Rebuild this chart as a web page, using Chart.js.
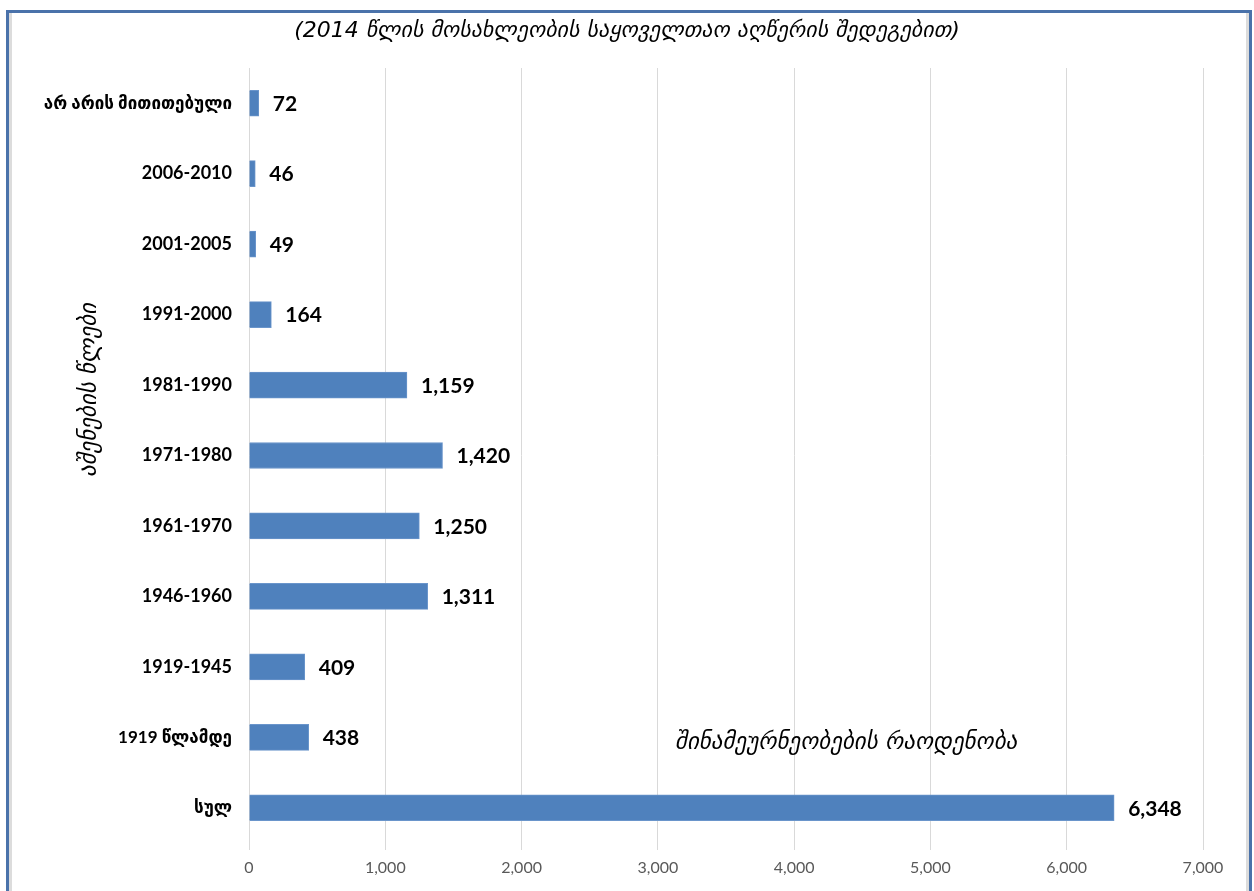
<!DOCTYPE html>
<html>
<head>
<meta charset="utf-8">
<script src="https://cdn.jsdelivr.net/npm/chart.js@4.4.0/dist/chart.umd.min.js"></script>
<style>
  html, body { margin: 0; padding: 0; background: #fff; overflow: hidden; }
  #frame {
    position: absolute; left: 6px; top: 10px; width: 1240px; height: 900px;
    border: 3px solid #4A72AA; border-bottom: none;
    box-shadow: inset 3px 0 0 #DCDCDC, inset -3px 0 0 #DCDCDC;
  }
  #wrap { position: absolute; left: 0; top: 0; width: 1254px; height: 891px; }
</style>
</head>
<body>
<div id="frame"></div>
<div id="wrap"><canvas id="barChart" width="1254" height="891"></canvas></div>
<script>
// ასაშენებელი პერიოდები და შინამეურნეობების რაოდენობა
var categories = ['არ არის მითითებული', '2006-2010', '2001-2005', '1991-2000', '1981-1990',
    '1971-1980', '1961-1970', '1946-1960', '1919-1945', '1919 წლამდე', 'სულ'];
var households = [72, 46, 49, 164, 1159, 1420, 1250, 1311, 409, 438, 6348];
var xTicks = [0, 1000, 2000, 3000, 4000, 5000, 6000, 7000];

var chartTitle = '(2014 წლის მოსახლეობის საყოველთაო აღწერის შედეგებით)';
var yTitle = 'აშენების წლები';
var xTitle = 'შინამეურნეობების რაოდენობა';

var fmt = function (v) { return v.toLocaleString('en-US'); };
var georgian = /[\u10A0-\u10FF]/;

// ტექსტები და მნიშვნელობები ბარებთან
var extrasPlugin = {
    id: 'extras',
    afterDatasetsDraw: function (chart) {
        var ctx = chart.ctx;
        var meta = chart.getDatasetMeta(0);
        ctx.save();
        ctx.fillStyle = '#000';
        ctx.font = 'bold 21px Lato, "DejaVu Sans", sans-serif';
        ctx.textAlign = 'left';
        ctx.textBaseline = 'middle';
        meta.data.forEach(function (bar, i) {
            ctx.fillText(fmt(households[i]), bar.x + 14, bar.y + 1);
        });

        ctx.font = 'italic 22px "DejaVu Sans", sans-serif';
        ctx.textAlign = 'center';
        ctx.fillText(chartTitle, 627, 31);

        ctx.font = 'italic 23px "DejaVu Sans", sans-serif';
        ctx.textAlign = 'left';
        ctx.fillText(xTitle, 675, 743);

        ctx.translate(90, 390);
        ctx.rotate(-Math.PI / 2);
        ctx.textAlign = 'center';
        ctx.fillText(yTitle, 0, 0);
        ctx.restore();
    }
};

var ctxBar = document.getElementById('barChart').getContext('2d');
var barChart = new Chart(ctxBar, {
    type: 'bar',
    data: {
        labels: categories,
        datasets: [{
            data: households,
            backgroundColor: '#4F81BD',
            borderColor: '#6A95CB',
            borderWidth: 1,
            barThickness: 26
        }]
    },
    options: {
        indexAxis: 'y',
        responsive: false,
        animation: false,
        layout: { padding: { top: 68, right: 51, bottom: 0, left: 0 } },
        scales: {
            x: {
                min: 0,
                max: 7000,
                afterBuildTicks: function (scale) {
                    scale.ticks = xTicks.map(function (v) { return { value: v }; });
                },
                afterFit: function (scale) { scale.height = 48; },
                grid: { color: '#D9D9D9', lineWidth: 1, tickLength: 7 },
                border: { display: false },
                ticks: {
                    padding: 8,
                    color: '#595959',
                    font: { family: 'Lato, "DejaVu Sans", sans-serif', size: 16 },
                    callback: function (value) { return fmt(value); }
                }
            },
            y: {
                afterFit: function (scale) { scale.width = 249; },
                grid: { display: false },
                border: { display: false },
                ticks: {
                    padding: 9,
                    color: '#000',
                    font: function (c) {
                        var lbl = categories[c.index] || '';
                        return {
                            family: 'Lato, "DejaVu Sans", sans-serif',
                            weight: 'bold',
                            size: georgian.test(lbl) ? 17 : 18
                        };
                    }
                }
            }
        },
        plugins: {
            legend: { display: false },
            tooltip: { enabled: false }
        }
    },
    plugins: [extrasPlugin]
});
</script>
</body>
</html>
